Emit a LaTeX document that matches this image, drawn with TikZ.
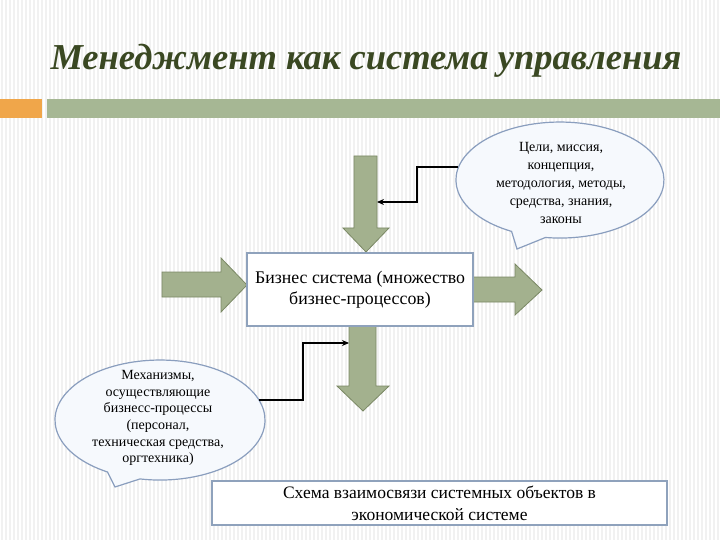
\documentclass[tikz,border=0pt]{standalone}
\usepackage{fontspec}
\setmainfont{Liberation Serif}
\usetikzlibrary{arrows.meta}
\definecolor{titlegreen}{RGB}{58,72,34}
\definecolor{barorange}{RGB}{240,166,74}
\definecolor{bargreen}{RGB}{166,183,148}
\definecolor{arrowgreen}{RGB}{163,177,142}
\definecolor{arrowedge}{RGB}{122,136,100}
\definecolor{boxedge}{RGB}{143,162,188}
\definecolor{bubblefill}{RGB}{246,249,253}
\definecolor{bubbleedge}{RGB}{138,158,190}
\definecolor{stripe}{RGB}{241,241,241}
\tikzset{
  fatarrow/.style={fill=arrowgreen, draw=arrowedge, line width=0.8pt, line join=miter},
  bubble/.style={fill=bubblefill, draw=bubbleedge, line width=1.2pt},
  txtbox/.style={fill=white, draw=boxedge, line width=1.2pt},
  conn/.style={draw=black, line width=1.3pt, -{Stealth[length=7pt,width=6pt]}},
  bubbletext/.style={align=center, font=\fontsize{14}{18}\selectfont},
}
\begin{document}
\begin{tikzpicture}[x=1pt,y=-1pt]
\useasboundingbox (0,0) rectangle (720,540);
\fill[white] (0,0) rectangle (720,540);
\foreach \x in {2,6,...,718} \draw[stripe, line width=1.2pt] (\x,0) -- (\x,540);

% title
\node[anchor=base, font=\fontsize{36.5}{40}\selectfont\bfseries\itshape, text=titlegreen, inner sep=0pt] (title) at (366,70) {Менеджмент как система управления};

% bars
\fill[barorange] (0,99) rectangle (42,118);
\fill[bargreen] (47,99) rectangle (720,118);

% fat arrows
\draw[fatarrow] (354,156) -- (377,156) -- (377,228) -- (389,228) -- (366,252) -- (343,228) -- (354,228) -- cycle;
\draw[fatarrow] (162,272) -- (221,272) -- (221,258) -- (247,285) -- (221,312) -- (221,297) -- (162,297) -- cycle;
\draw[fatarrow] (473,277) -- (515,277) -- (515,264) -- (542,290) -- (515,315) -- (515,302) -- (473,302) -- cycle;
\draw[fatarrow] (349,326) -- (376,326) -- (376,386) -- (389,386) -- (363,411) -- (337,386) -- (349,386) -- cycle;

% central box
\node[txtbox, minimum width=226pt, minimum height=73pt, align=center, font=\fontsize{17.8}{21}\selectfont] (biz) at (360,289.5) {Бизнес система (множество\\бизнес-процессов)};

% top bubble
\draw[bubble] (517,249) -- (511.6,231.4) arc[start angle=117.7, end angle=458, x radius=104, y radius=58] -- cycle;
\node[bubbletext] (goals) at (561,183) {Цели, миссия,\\концепция,\\методология, методы,\\средства, знания,\\законы};
\coordinate (gs) at (458,167);
\coordinate (gt) at (377,202);
\draw[conn] (gs) -- (417,167) -- (417,202) -- (gt);

% bottom bubble
\draw[bubble] (115,487) -- (107.5,472) arc[start angle=120, end angle=461, x radius=105, y radius=60] -- cycle;
\node[bubbletext, font=\fontsize{14}{16.7}\selectfont] (mech) at (158,418) {Механизмы,\\осуществляющие\\бизнесс-процессы\\(персонал,\\техническая средства,\\оргтехника)};
\coordinate (ms) at (259,400);
\coordinate (mt) at (349,343);
\draw[conn] (ms) -- (303,400) -- (303,343) -- (mt);

% caption
\node[txtbox, minimum width=455pt, minimum height=44pt, align=center, font=\fontsize{17.5}{22}\selectfont] (cap) at (439.5,503) {Схема взаимосвязи системных объектов в\\экономической системе};
\end{tikzpicture}
\end{document}
